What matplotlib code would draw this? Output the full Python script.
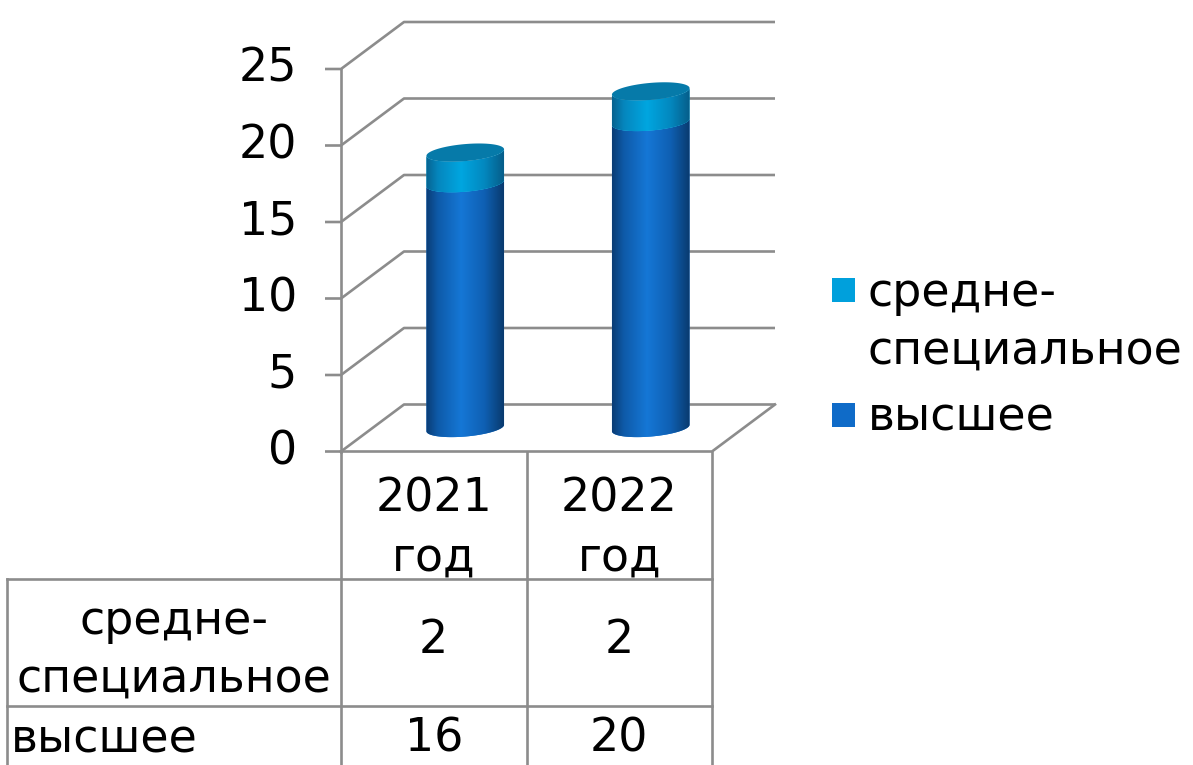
import numpy as np
import matplotlib.pyplot as plt
from matplotlib.patches import Polygon, Rectangle
from matplotlib.colors import LinearSegmentedColormap

# data
years = ["2021\nгод", "2022\nгод"]
series_names = ["средне-\nспециальное", "высшее"]
higher = [16, 20]
secondary = [2, 2]
y_ticks = [0, 5, 10, 15, 20, 25]

W, H = 1193, 765
GRID = "#8c8c8c"
FS = 33
plt.rcParams['font.family'] = ['DejaVu Sans']

fig = plt.figure(figsize=(W / 100, H / 100), dpi=100)

# overlay in image pixels (y down) for walls, ticks and table
ov = fig.add_axes([0, 0, 1, 1])
ov.set_xlim(0, W)
ov.set_ylim(H, 0)
ov.axis('off')

# mid-depth plane of the 3D box, in data units
ax = fig.add_axes([372.5 / W, 1 - 428 / H, 371 / W, 382.5 / H])
ax.set_xlim(-0.5, 1.5)
ax.set_ylim(0, 25)
ax.axis('off')
ax.patch.set_alpha(0)

DX, DY = 31.5, 23.5  # half depth offset in pixels


def px(x, v, depth=0):
    dx, dy = ax.transData.transform((x, v))
    return dx + depth * DX, H - dy - depth * DY


lw = 1.9
# walls and gridlines
for v in y_ticks:
    f = px(-0.5, v, -1)
    b = px(-0.5, v, 1)
    e = px(1.5, v, 1)
    ov.plot([f[0] - 16, f[0], b[0], e[0]], [f[1], f[1], b[1], e[1]],
            color=GRID, lw=lw, solid_capstyle='butt')
    ov.text(f[0] - 44, f[1], str(v), ha='right', va='center', fontsize=FS)

fl = px(-0.5, 0, -1)
ft = px(-0.5, 25, -1)
ov.plot([fl[0], ft[0]], [fl[1], ft[1]], color=GRID, lw=lw)
fr = px(1.5, 0, -1)
br = px(1.5, 0, 1)
ov.plot([fl[0], fr[0], br[0]], [fl[1], fr[1], br[1]], color=GRID, lw=lw)

# data table below the plot
cols = [px(x, 0, -1)[0] for x in (-0.5, 0.5, 1.5)]
row_y = [fl[1], fl[1] + 127, fl[1] + 254, H + 5]
left = 7
for cx in cols:
    ov.plot([cx, cx], [row_y[0], row_y[3]], color=GRID, lw=lw)
for ry in row_y[1:3]:
    ov.plot([left, cols[-1]], [ry, ry], color=GRID, lw=lw)
ov.plot([left, left], [row_y[1], row_y[3]], color=GRID, lw=lw)

centers = [(cols[i] + cols[i + 1]) / 2 for i in range(len(years))]
for i, yr in enumerate(years):
    ov.text(centers[i], row_y[0] + 77, yr, ha='center', va='center',
            fontsize=FS, linespacing=1.4)
    ov.text(centers[i], row_y[1] + 62, str(secondary[i]), ha='center',
            va='center', fontsize=FS)
    ov.text(centers[i], row_y[2] + 33, str(higher[i]), ha='center',
            va='center', fontsize=FS)
ov.text((left + cols[0]) / 2, row_y[1] + 72, series_names[0], ha='center',
        va='center', fontsize=FS, linespacing=1.35)
ov.text(left + 4, row_y[2] + 33, series_names[1], ha='left', va='center',
        fontsize=FS)

# cylinders
blue_cmap = LinearSegmentedColormap.from_list(
    "blue", [(0, "#0a3c74"), (0.15, "#0e5aa8"), (0.45, "#1577d6"),
             (0.75, "#0f60b3"), (1.0, "#093a6e")])
cyan_cmap = LinearSegmentedColormap.from_list(
    "cyan", [(0, "#07628f"), (0.15, "#0586bd"), (0.45, "#00a6e0"),
             (0.75, "#0388bf"), (1.0, "#065d89")])
grad = np.linspace(0, 1, 256)[None, :]

bw = 0.42
sx = ax.transData.transform((1, 0))[0] - ax.transData.transform((0, 0))[0]
sy = ax.transData.transform((0, 1))[1] - ax.transData.transform((0, 0))[1]
a_px = bw * sx / 2
b_px = 8.5
th = np.deg2rad(5)


def arc(xc, v, t):
    ex = a_px * np.cos(t) * np.cos(th) - b_px * np.sin(t) * np.sin(th)
    ey = a_px * np.cos(t) * np.sin(th) + b_px * np.sin(t) * np.cos(th)
    return np.column_stack([xc + ex / sx, v + ey / sy])


def segment(xc, lo, hi, cmap, z):
    pts = np.vstack([arc(xc, lo, np.linspace(np.pi, 2 * np.pi, 80)),
                     arc(xc, hi, np.linspace(2 * np.pi, np.pi, 80))])
    poly = Polygon(pts, closed=True, facecolor=cmap(0.45), edgecolor='none',
                   zorder=z, clip_on=False)
    ax.add_patch(poly)
    im = ax.imshow(grad, extent=(xc - bw / 2, xc + bw / 2, lo - 2, hi + 2),
                   aspect='auto', cmap=cmap, interpolation='bicubic',
                   zorder=z + 0.5)
    im.set_clip_path(poly)
    im.set_clip_box(fig.bbox)


for i in range(len(years)):
    segment(i, 0, higher[i], blue_cmap, 2)
    top = higher[i] + secondary[i]
    segment(i, higher[i], top, cyan_cmap, 3)
    cap = Polygon(arc(i, top, np.linspace(0, 2 * np.pi, 160)), closed=True,
                  facecolor="#067aa9", edgecolor='none', zorder=5,
                  clip_on=False)
    ax.add_patch(cap)

ax.set_xlim(-0.5, 1.5)
ax.set_ylim(0, 25)

# legend
leg_colors = ["#00a0dc", "#0f6bc8"]
leg_y = [290, 415]
for name, c, ly in zip(series_names, leg_colors, leg_y):
    ov.add_patch(Rectangle((832, ly - 12), 23, 24, facecolor=c,
                           edgecolor='none'))
    off = 32 if "\n" in name else 2
    ov.text(868, ly + off, name, ha='left', va='center', fontsize=FS,
            linespacing=1.35)

fig.savefig("out.png", dpi=100)
